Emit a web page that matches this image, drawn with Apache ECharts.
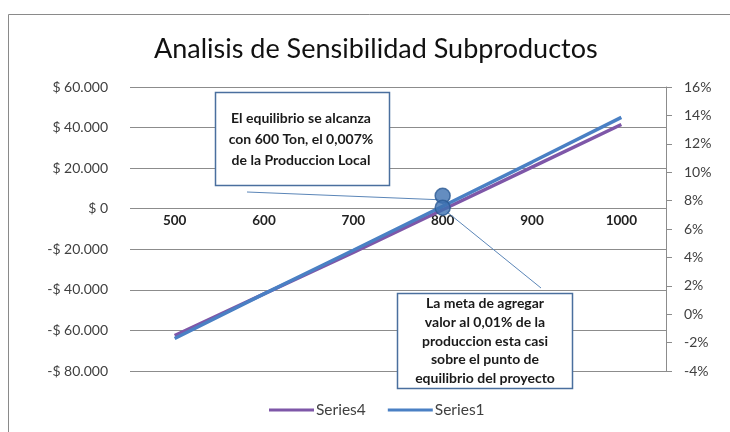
<!DOCTYPE html>
<html><head><meta charset="utf-8">
<script src="https://cdn.jsdelivr.net/npm/echarts@6/dist/echarts.min.js"></script>
<style>html,body{margin:0;padding:0;background:#fff}#c{width:730px;height:432px}</style>
</head><body><div id="c"></div>
<script>
const categories = ['500','600','700','800','900','1000'];
const series4 = [-62500, -42000, -21500, -500, 20500, 41500];
const series1 = [-64000, -42000, -20500, 1200, 23000, 45000];
const markerCategory = '800';
const markerValues = [6400, 500];
const leftTicks = {min: -80000, max: 60000, interval: 20000};
const rightTicks = {min: -4, max: 16, interval: 2};
const note1 = 'El equilibrio se alcanza\ncon 600 Ton, el 0,007%\nde la Produccion Local';
const note2 = 'La meta de agregar\nvalor al 0,01% de la\nproduccion esta casi\nsobre el punto de\nequilibrio del proyecto';

function money(v){
  if (v === 0) return '$ 0';
  const a = Math.abs(v).toLocaleString('de-DE');
  return (v < 0 ? '-$ ' : '$ ') + a;
}
const chart = echarts.init(document.getElementById('c'), null, {renderer:'canvas'});
const grid = {left:130, right:64, top:87, bottom:61};
chart.setOption({
  animation:false,
  backgroundColor:'#fff',
  title:{text:'Analisis de Sensibilidad Subproductos', left:149, top:31,
    textStyle:{fontFamily:'Lato', fontSize:27, fontWeight:'normal', color:'#111'}},
  legend:{bottom:9, left:264, itemWidth:45, itemHeight:3, itemGap:22, icon:'rect',
    textStyle:{fontFamily:'Lato', fontSize:15.5, color:'#404040', padding:[0,0,0,-3]},
    data:['Series4','Series1']},
  grid:grid,
  xAxis:{type:'category', data:categories, boundaryGap:true,
    axisLine:{onZero:false, show:false}, axisTick:{show:false},
    axisLabel:{fontFamily:'Lato', fontWeight:'bold', fontSize:13.5, color:'#222', margin:5}},
  yAxis:[
    {type:'value', min:leftTicks.min, max:leftTicks.max, interval:leftTicks.interval,
      axisLine:{show:false}, axisTick:{show:false},
      splitLine:{lineStyle:{color:'#8c8c8c', width:1}},
      axisLabel:{formatter:money, fontFamily:'Lato', fontSize:14, color:'#404040', margin:22}},
    {type:'value', min:rightTicks.min, max:rightTicks.max, interval:rightTicks.interval,
      axisLine:{show:true, lineStyle:{color:'#8c8c8c'}}, axisTick:{show:true, length:6, lineStyle:{color:'#8c8c8c'}},
      splitLine:{show:false},
      axisLabel:{formatter:'{value}%', fontFamily:'Lato', fontSize:14, color:'#404040', margin:18}}
  ],
  series:[
    {name:'Series4', type:'line', data:series4, symbol:'none', lineStyle:{width:3.5, color:'#7E57A8'}, itemStyle:{color:'#7E57A8'}},
    {name:'Series1', type:'line', data:series1, symbol:'none', lineStyle:{width:3.5, color:'#4A80C4'}, itemStyle:{color:'#4A80C4'}},
    {name:'markers', type:'scatter', data:markerValues.map(v=>[markerCategory, v]), symbolSize:15, z:5,
      itemStyle:{color:'#3D70B0', borderColor:'#2C5A94', borderWidth:1.5}}
  ]
});
// place the category axis at the zero value of the left axis
const zeroY = chart.convertToPixel({yAxisIndex:0}, 0);
const bottomY = 432 - grid.bottom;
chart.setOption({xAxis:{offset: zeroY - bottomY}});

const p1 = chart.convertToPixel({xAxisIndex:0, yAxisIndex:0}, [markerCategory, markerValues[0]]);
const p2 = chart.convertToPixel({xAxisIndex:0, yAxisIndex:0}, [markerCategory, markerValues[1]]);
const textStyle = {fontFamily:'Lato', fontWeight:'bold', fill:'#1a1a1a', align:'center', verticalAlign:'middle'};
chart.setOption({graphic:[
  {type:'rect', shape:{x:8.5, y:14.5, width:800, height:500}, style:{fill:'none', stroke:'#8a8a8a', lineWidth:1}, silent:true, z:-1},
  {type:'line', shape:{x1:247, y1:192, x2:p1[0]-4, y2:p1[1]+4}, style:{stroke:'#5b86b8', lineWidth:1}, z:4},
  {type:'line', shape:{x1:p2[0]+4, y1:p2[1]+4, x2:541, y2:288}, style:{stroke:'#5b86b8', lineWidth:1}, z:4},
  {type:'rect', shape:{x:215.5, y:92.5, width:174, height:93}, style:{fill:'#fff', stroke:'#4a6f9e', lineWidth:1.5}, z:6},
  {type:'text', x:301, y:139, style:Object.assign({text:note1, lineHeight:21}, textStyle, {fontSize:14}), z:7},
  {type:'rect', shape:{x:397.5, y:293.5, width:175, height:95}, style:{fill:'#fff', stroke:'#4a6f9e', lineWidth:1.5}, z:6},
  {type:'text', x:485, y:341, style:Object.assign({text:note2, lineHeight:18.8}, textStyle, {fontSize:14}), z:7}
]});
</script></body></html>
